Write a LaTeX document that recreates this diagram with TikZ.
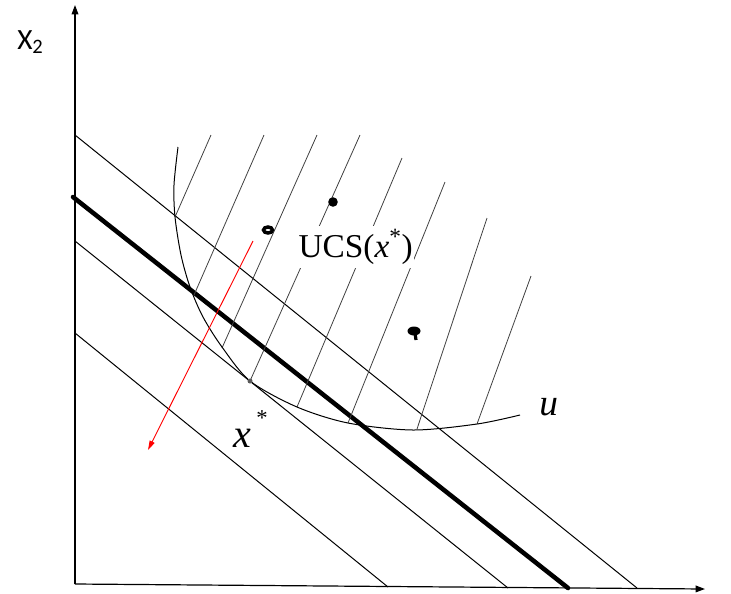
\documentclass[tikz,border=0pt]{standalone}
\usepackage{fontspec}
\setmainfont{Liberation Serif}
\newfontfamily\axisfont{Carlito}
\usetikzlibrary{arrows.meta}

\begin{document}
\begin{tikzpicture}[
    x=0.75pt, y=-0.75pt,
    axis/.style={-{Triangle[length=7pt, width=5pt]}, line width=0.9pt},
    budget/.style={line width=0.75pt},
    opt/.style={line width=3.4pt},
    hatch/.style={line width=0.6pt, black!75},
    indiff/.style={line width=0.75pt},
    dir/.style={-{Triangle[length=7pt, width=4pt]}, red, line width=0.7pt},
    lbl/.style={inner sep=0pt, anchor=base west}
]
\useasboundingbox (0,0) rectangle (731,593);

% ---- Axes ----
\coordinate (O) at (75,584);
\coordinate (ytip) at (75,5);
\coordinate (xtip) at (705,589);
\draw[axis] (O) -- (ytip);
\draw[axis] (O) -- (xtip);
\node[lbl, font=\axisfont\fontsize{22}{22}\selectfont] (xtwo) at (17,49) {X\textsubscript{2}};

% ---- Parallel lines ----
\draw[budget] (75,135) -- (637,588);
\draw[budget] (75,241) -- (508,588);  % tangent at x*
\draw[budget] (75,333) -- (388,587);
\draw[opt, line cap=round] (73,197) -- (568,588);

% ---- Hatching of the upper contour set ----
\foreach \xa/\ya/\xb/\yb in {211/135/175/217, 264/135/194/295, 317/135/222/348,
        360/135/250/381, 402/158/297/407, 445/182/348/423,
        487/218/417/429, 531/276/477/424}
    \draw[hatch] (\xa,\ya) -- (\xb,\yb);

% ---- Indifference curve u ----
\coordinate (xstar) at (250,381);
\draw[indiff] plot[smooth] coordinates {(178,147) (174,185) (175,217) (181,255)
    (190,287) (203,317) (222,347) (xstar) (297,407) (348,423) (413,430)
    (477,424) (520,415)};
\fill[black!65] (xstar) circle [radius=2.5];

% ---- Marks inside the set ----
\draw[line width=2.6pt] (268,230) ellipse [x radius=4.5, y radius=3];
\fill (333,202) circle [radius=4.8];
\fill (414,331) ellipse [x radius=6.5, y radius=4.5];
\draw[line width=2.4pt] (415,333) -- (416,340);

% ---- Direction arrow ----
\coordinate (dstart) at (253,241);
\coordinate (dend) at (148,450);
\draw[dir] (dstart) -- (dend);

% ---- Labels ----
\node[lbl, fill=white, inner xsep=1pt, inner ysep=3pt, font=\fontsize{25}{25}\selectfont]
    (ucs) at (297,257) {UCS(\textit{x}\textsuperscript{*})};
\node[lbl, font=\fontsize{30}{30}\selectfont] (xlab) at (233,447)
    {\textit{x}\hspace{4pt}\raisebox{16pt}{\fontsize{17}{17}\selectfont *}};
\node[lbl, font=\fontsize{28}{28}\selectfont] (ulab) at (539,415) {\textit{u}};

\end{tikzpicture}
\end{document}
